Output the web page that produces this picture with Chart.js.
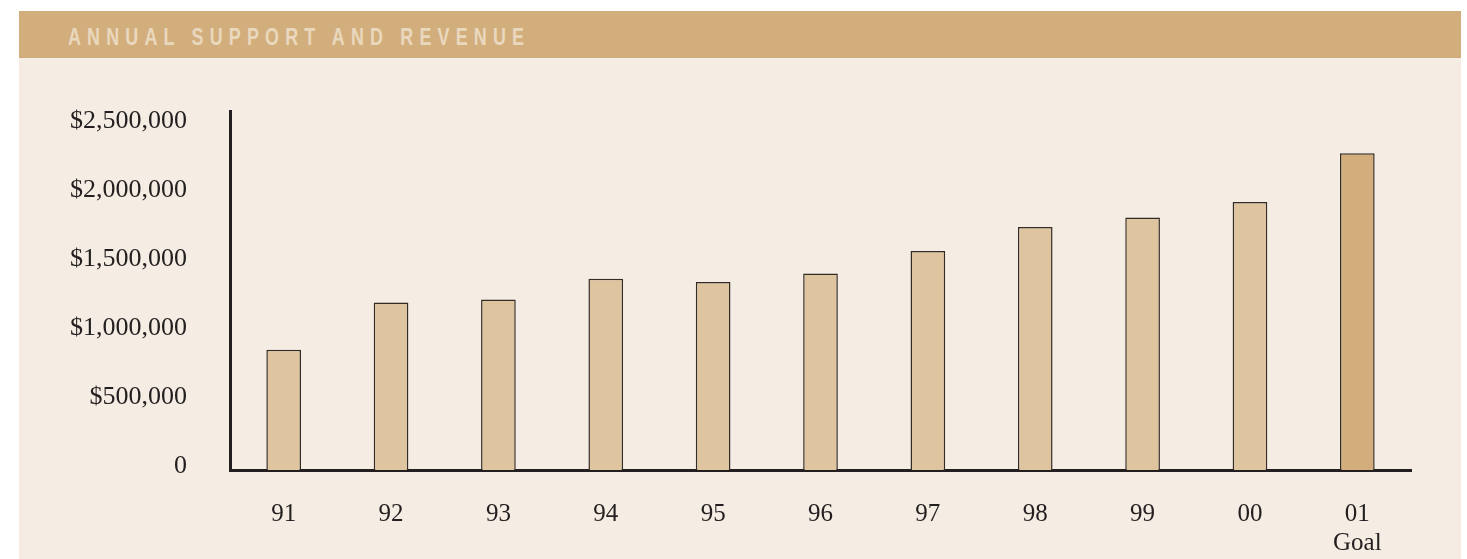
<!DOCTYPE html>
<html>
<head>
<meta charset="utf-8">
<script src="https://cdn.jsdelivr.net/npm/chart.js@4"></script>
<style>
  body { margin: 0; background: #ffffff; width: 1467px; height: 559px; overflow: hidden; position: relative; }
  #header {
    position: absolute; left: 19px; top: 11px; width: 1442px; height: 47px;
    background: #d3ae7d;
  }
  #header span {
    position: absolute; left: 49px; top: 15px;
    font-family: "Liberation Sans", Arial, sans-serif;
    font-weight: bold; font-size: 23px; line-height: 23px; letter-spacing: 7.9px;
    color: #e9d8bd; white-space: nowrap;
    transform: scaleX(0.78); transform-origin: left top;
  }
  #panel {
    position: absolute; left: 19px; top: 58px; width: 1442px; height: 501px;
    background: #f5ede3;
  }
</style>
</head>
<body>
<div id="header"><span>ANNUAL SUPPORT AND REVENUE</span></div>
<div id="panel"><canvas id="myChart" width="1442" height="501"></canvas></div>
<script>
let years = ['91', '92', '93', '94', '95', '96', '97', '98', '99', '00', ['01', 'Goal']];
let revenue = [873000, 1216000, 1238000, 1388000, 1364000, 1425000, 1590000, 1763000, 1833000, 1945000, 2298000];
let barColors = ['#dec5a0', '#dec5a0', '#dec5a0', '#dec5a0', '#dec5a0', '#dec5a0', '#dec5a0', '#dec5a0', '#dec5a0', '#dec5a0', '#d3ad7c'];
let yTicks = [0, 500000, 1000000, 1500000, 2000000, 2500000];

let serif = "'Liberation Serif', 'Times New Roman', serif";
let ink = '#231f20';

let ctx = document.getElementById('myChart').getContext('2d');

let chart = new Chart(ctx, {
    type: 'bar',
    data: {
        labels: years,
        datasets: [{
            data: revenue,
            backgroundColor: barColors,
            borderColor: '#332b26',
            borderWidth: 1.5,
            barPercentage: 0.323,
            categoryPercentage: 1
        }]
    },
    options: {
        responsive: false,
        animation: false,
        layout: {
            padding: { left: 0, right: 50, top: 53, bottom: 0 }
        },
        plugins: {
            legend: { display: false },
            tooltip: { enabled: false }
        },
        scales: {
            x: {
                grid: { display: false },
                border: { display: true, width: 3, color: ink },
                ticks: {
                    color: ink,
                    padding: 22,
                    maxRotation: 0,
                    font: { family: serif, size: 25, lineHeight: 1.16 }
                },
                afterFit: function (scale) { scale.height = 89; }
            },
            y: {
                min: 0,
                max: 2605000,
                grid: { display: false },
                border: { display: true, width: 3, color: ink },
                afterBuildTicks: function (scale) {
                    scale.ticks = yTicks.map(v => ({ value: v }));
                },
                ticks: {
                    color: ink,
                    padding: 35,
                    labelOffset: -4,
                    font: { family: serif, size: 26 },
                    callback: function (v) {
                        return v === 0 ? '0' : '$' + v.toLocaleString('en-US');
                    }
                },
                afterFit: function (scale) { scale.width = 211; }
            }
        }
    }
});
</script>
</body>
</html>
